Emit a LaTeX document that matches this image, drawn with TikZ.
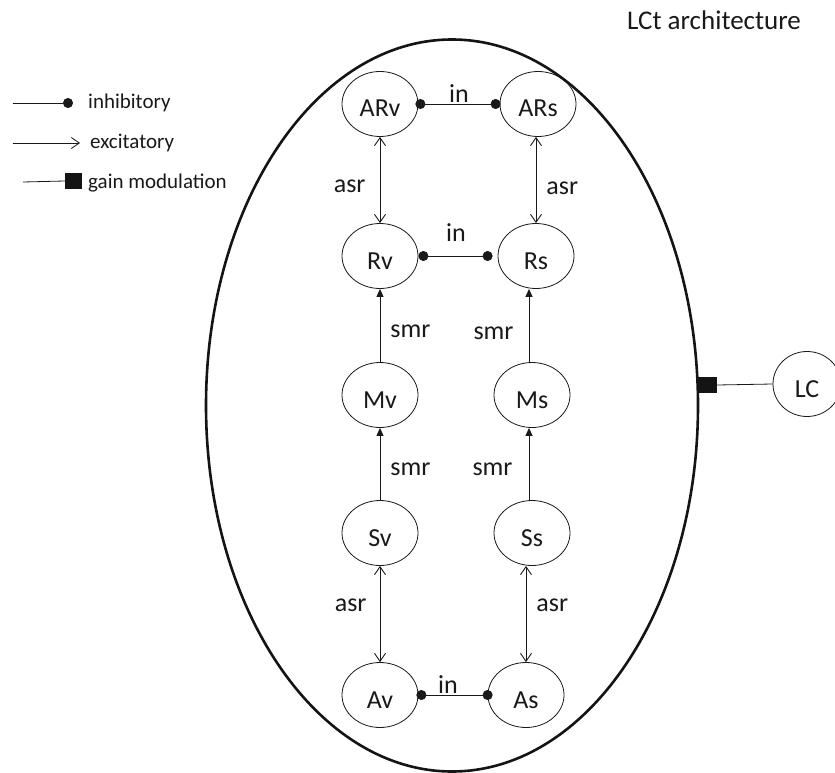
\documentclass[tikz,border=0pt]{standalone}
\usepackage{fontspec}
\setmainfont{Carlito}
\usetikzlibrary{shapes.geometric,arrows.meta,calc}
\begin{document}
\begin{tikzpicture}[x=1pt,y=-1pt,
  cell/.style={ellipse, draw=black!90, line width=0.8pt, minimum width=76pt, minimum height=65pt,
    inner sep=0pt, font=\fontsize{26}{30}\selectfont, text=black!90, text height=26pt, text depth=0pt},
  lbl/.style={inner sep=0pt, font=\fontsize{26}{30}\selectfont, text=black!90},
  legtext/.style={inner sep=0pt, font=\fontsize{21}{25}\selectfont, text=black!90},
  conn/.style={draw=black!90, line width=0.9pt},
  asr/.style={conn, {Straight Barb[length=8pt,width=11pt]}-{Straight Barb[length=8pt,width=11pt]}},
  smr/.style={conn, -{Triangle[length=8pt,width=7pt]}},
  inh/.style={conn, {Circle[length=10pt]}-{Circle[length=10pt]}},
  gmsq/.style={rectangle, fill=black!92, inner sep=0pt},
]
\useasboundingbox (0,0) rectangle (835,773);

% title
\node[inner sep=0pt, font=\fontsize{27}{31}\selectfont, text=black!90, anchor=base] (title) at (714,30) {LCt architecture};

% outer ellipse
\node[ellipse, draw=black!92, line width=2.6pt, minimum width=492pt, minimum height=732pt, inner sep=0pt] (outer) at (452,405.5) {};

% cells
\node[cell] (ARv) at (380,104) {ARv};
\node[cell] (ARs) at (538,104) {ARs};
\node[cell] (Rv)  at (380,256) {Rv};
\node[cell] (Rs)  at (536,256) {Rs};
\node[cell] (Mv)  at (380,395) {Mv};
\node[cell] (Ms)  at (532,395) {Ms};
\node[cell] (Sv)  at (380,533) {Sv};
\node[cell] (Ss)  at (532,533) {Ss};
\node[cell] (Av)  at (380,695) {Av};
\node[cell] (As)  at (526,695) {As};
\node[ellipse, draw=black!90, line width=0.8pt, minimum width=68pt, minimum height=65pt, inner sep=0pt,
  font=\fontsize{26}{30}\selectfont, text=black!90, text height=26pt, text depth=0pt] (LC) at (807,384) {LC};

% inhibitory links
\draw[inh, shorten <=-3pt, shorten >=-1pt] (ARv.east) -- node[lbl, above=1pt] {in} (ARs.west);
\draw[inh, shorten >=5pt] (Rv.east) -- node[lbl, above=14pt, xshift=-2pt] {in} (Rs.west);
\draw[inh, shorten <=-2pt, shorten >=-5pt] (Av.east) -- node[lbl, above=1.5pt, xshift=-5pt] {in} (As.west);

% asr links
\draw[asr] (ARv.south) -- node[lbl, left=14pt, yshift=-6pt] {asr} (Rv.north);
\draw[asr] (ARs.south -| Rs.north) -- node[lbl, right=10pt, yshift=-8pt] {asr} (Rs.north);
\draw[asr] (Sv.south) -- node[lbl, left=13pt, yshift=9pt] {asr} (Av.north);
\draw[asr] (As.north |- Ss.south) -- node[lbl, right=10pt, yshift=9pt] {asr} (As.north);

% smr links
\draw[smr] (Mv.north) -- node[lbl, right=10pt, yshift=-6pt] {smr} (Rv.south);
\draw[smr] ([xshift=-3pt]Ms.north) -- node[lbl, left=15pt, yshift=-8pt] {smr} ([xshift=-3pt]Ms.north |- Rs.south);
\draw[smr] (Sv.north) -- node[lbl, right=10pt, yshift=-5pt] {smr} (Mv.south);
\draw[smr] ([xshift=-3pt]Ss.north) -- node[lbl, left=16pt, yshift=-5pt] {smr} ([xshift=-3pt]Ms.south);

% gain modulation from LC
\node[gmsq, minimum width=20pt, minimum height=16pt] (gm) at (707,385) {};
\draw[draw=black!90, line width=0.8pt] (gm.east) -- (LC.west);

% legend
\coordinate (i1) at (13,103);
\coordinate (i2) at (73,103);
\draw[conn, line width=0.8pt, -{Circle[length=10pt]}] (i1) -- (i2);
\node[legtext, anchor=base west] (ti) at (88,108.5) {inhibitory};

\coordinate (e1) at (13,143);
\coordinate (e2) at (80,143);
\draw[conn, line width=0.8pt, -{Straight Barb[length=8pt,width=11pt]}] (e1) -- (e2);
\node[legtext, anchor=base west] (te) at (90,149) {excitatory};

\coordinate (g1) at (23,182);
\node[gmsq, minimum width=17pt, minimum height=16pt] (gsq) at (73.5,181) {};
\draw[conn, line width=0.8pt] (g1) -- (gsq.west);
\node[legtext, anchor=base west] (tg) at (88,188) {gain modulation};
\end{tikzpicture}
\end{document}
